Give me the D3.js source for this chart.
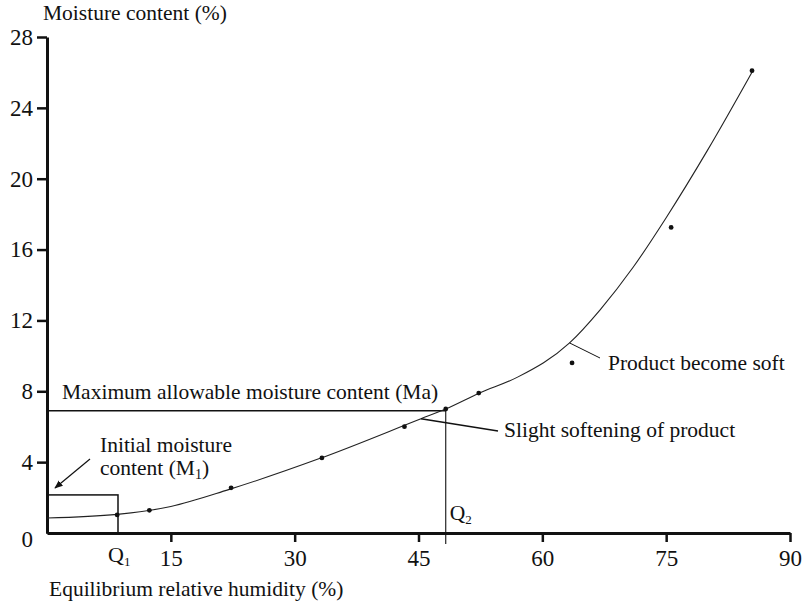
<!DOCTYPE html>
<html>
<head>
<meta charset="utf-8">
<script src="https://cdn.jsdelivr.net/npm/d3@7.9.0/dist/d3.min.js"></script>
<style>
  body { margin: 0; background: #fff; }
  svg { display: block; font-family: "Liberation Serif", "DejaVu Serif", serif; }
  text { fill: #111; }
</style>
</head>
<body>
<svg id="chart" width="807" height="608"></svg>
<script>
// tick values
const xTicks = [15, 30, 45, 60, 75, 90];
const yTicks = [0, 4, 8, 12, 16, 20, 24, 28];

// measured points (relative humidity %, moisture content %)
const obsRH = [8.5, 12.4, 22.3, 33.3, 43.3, 48.3, 52.3, 63.6, 75.6, 85.4];
const obsMC = [1.02, 1.28, 2.55, 4.24, 6.0, 7.0, 7.9, 9.6, 17.25, 26.1];

// fitted isotherm
const curveRH = [0, 8.5, 15, 22, 33, 45.3, 48.3, 52.4, 57, 63.3, 67, 71, 75, 80, 85.5];
const curveMC = [0.85, 1.05, 1.5, 2.45, 4.2, 6.45, 7.0, 7.9, 8.8, 10.73, 12.6, 15.0, 17.8, 21.6, 26.1];

// reference levels
const q1 = 8.6;      // initial ERH
const m1Top = 2.15;  // top of initial moisture box
const q2 = 48.3;     // critical ERH
const ma = 6.9;      // max allowable moisture

const svg = d3.select("#chart");

const x = d3.scaleLinear().domain([0, 90]).range([47, 790]);
const y = d3.scaleLinear().domain([0, 28]).range([533, 37]);

// y axis
const yAxis = svg.append("g")
    .attr("transform", `translate(${x(0)},0)`)
    .call(d3.axisLeft(y).tickValues(yTicks).tickSize(10).tickPadding(4).tickSizeOuter(0));
yAxis.select(".domain").attr("stroke", "#111").attr("stroke-width", 3);
yAxis.selectAll(".tick line").attr("stroke", "#111").attr("stroke-width", 2.5);
yAxis.selectAll(".tick").filter(d => d === 0).select("line").remove();
yAxis.selectAll(".tick").filter(d => d === 0).select("text").attr("dy", "0.6em");
yAxis.selectAll(".tick text").attr("font-size", 23).attr("font-family", "Liberation Serif").attr("fill", "#111");

// x axis
const xAxis = svg.append("g")
    .attr("transform", `translate(0,${y(0)})`)
    .call(d3.axisBottom(x).tickValues(xTicks).tickSize(9).tickPadding(8).tickSizeOuter(0));
xAxis.select(".domain").attr("stroke", "#111").attr("stroke-width", 3);
xAxis.selectAll(".tick line").attr("stroke", "#111").attr("stroke-width", 2.5);
xAxis.selectAll(".tick text").attr("font-size", 23).attr("font-family", "Liberation Serif").attr("fill", "#111");

// axis titles
svg.append("text").attr("x", 43).attr("y", 20).attr("font-size", 21.5)
    .text("Moisture content (%)");
svg.append("text").attr("x", 49).attr("y", 596).attr("font-size", 21.5)
    .text("Equilibrium relative humidity (%)");

// initial moisture box
svg.append("rect")
    .attr("x", x(0)).attr("y", y(m1Top))
    .attr("width", x(q1) - x(0)).attr("height", y(0) - y(m1Top))
    .attr("fill", "none").attr("stroke", "#111").attr("stroke-width", 1.5);

// max allowable moisture line and Q2 drop
svg.append("line")
    .attr("x1", x(0)).attr("x2", x(q2))
    .attr("y1", y(ma)).attr("y2", y(ma))
    .attr("stroke", "#111").attr("stroke-width", 1.6);
svg.append("line")
    .attr("x1", x(q2)).attr("x2", x(q2))
    .attr("y1", y(ma)).attr("y2", y(0) + 11)
    .attr("stroke", "#111").attr("stroke-width", 1.1);

// isotherm curve
const curveData = curveRH.map((d, i) => ({ rh: d, mc: curveMC[i] }));
const line = d3.line()
    .x(d => x(d.rh))
    .y(d => y(d.mc))
    .curve(d3.curveMonotoneX);
svg.append("path")
    .datum(curveData)
    .attr("d", line)
    .attr("fill", "none")
    .attr("stroke", "#222")
    .attr("stroke-width", 1.1);

// observed points
svg.selectAll("circle.obs")
    .data(obsRH.map((d, i) => ({ rh: d, mc: obsMC[i] })))
    .enter()
    .append("circle")
    .attr("class", "obs")
    .attr("cx", d => x(d.rh))
    .attr("cy", d => y(d.mc))
    .attr("r", 2.4)
    .attr("fill", "#111");

// labels
svg.append("text").attr("x", 62).attr("y", 399).attr("font-size", 21.5)
    .text("Maximum allowable moisture content (Ma)");

svg.append("text").attr("x", 100).attr("y", 452).attr("font-size", 21.5)
    .text("Initial moisture");
const m1 = svg.append("text").attr("x", 100).attr("y", 475).attr("font-size", 21.5);
m1.append("tspan").text("content (M");
m1.append("tspan").attr("font-size", 14).attr("dy", 4).text("1");
m1.append("tspan").attr("dy", -4).text(")");

// arrow to the box
svg.append("defs").append("marker")
    .attr("id", "arr").attr("viewBox", "0 0 10 10")
    .attr("refX", 9).attr("refY", 5)
    .attr("markerWidth", 7).attr("markerHeight", 7)
    .attr("orient", "auto")
    .append("path").attr("d", "M0,1 L10,5 L0,9 Z").attr("fill", "#111");
svg.append("line")
    .attr("x1", 90).attr("y1", 459).attr("x2", 55).attr("y2", 488)
    .attr("stroke", "#111").attr("stroke-width", 1.2)
    .attr("marker-end", "url(#arr)");

// Q1 / Q2
const q1t = svg.append("text").attr("x", x(q1) - 10).attr("y", 562).attr("font-size", 22);
q1t.append("tspan").text("Q");
q1t.append("tspan").attr("font-size", 13).attr("dy", 4).text("1");
const q2t = svg.append("text").attr("x", x(q2) + 4).attr("y", 520).attr("font-size", 21.5);
q2t.append("tspan").text("Q");
q2t.append("tspan").attr("font-size", 13).attr("dy", 4).text("2");

// leader: slight softening
svg.append("line")
    .attr("x1", x(45.3)).attr("y1", y(6.45))
    .attr("x2", 498).attr("y2", 431)
    .attr("stroke", "#111").attr("stroke-width", 1.3);
svg.append("text").attr("x", 504).attr("y", 437).attr("font-size", 21.5)
    .text("Slight softening of product");

// leader: product become soft
svg.append("line")
    .attr("x1", x(63.3)).attr("y1", y(10.73))
    .attr("x2", 600).attr("y2", 358)
    .attr("stroke", "#111").attr("stroke-width", 1);
svg.append("text").attr("x", 608).attr("y", 370).attr("font-size", 21.5)
    .text("Product become soft");
</script>
</body>
</html>
